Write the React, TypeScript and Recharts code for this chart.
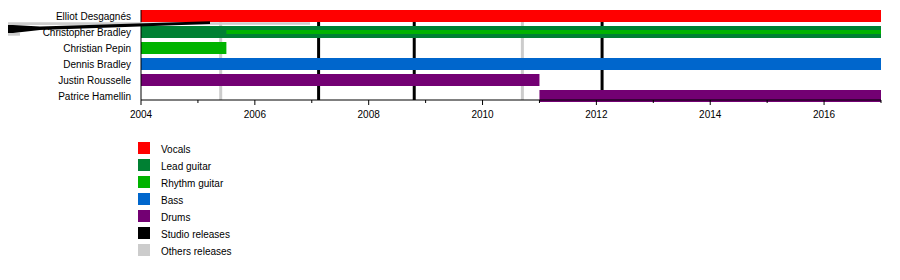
import React from 'react';
import { BarChart, Bar, XAxis, YAxis, ReferenceLine } from 'recharts';

type Range = [number, number] | undefined;

const members = [
  'Elliot Desgagnés',
  'Christopher Bradley',
  'Christian Pepin',
  'Dennis Bradley',
  'Justin Rousselle',
  'Patrice Hamellin',
];
const vocals: Range[] = [[2004, 2017], undefined, undefined, undefined, undefined, undefined];
const leadGuitar: Range[] = [undefined, [2004, 2017], undefined, undefined, undefined, undefined];
const rhythmGuitar: Range[] = [undefined, undefined, [2004, 2005.5], undefined, undefined, undefined];
const rhythmGuitarSecondary: Range[] = [undefined, [2005.5, 2017], undefined, undefined, undefined, undefined];
const bass: Range[] = [undefined, undefined, undefined, [2004, 2017], undefined, undefined];
const drums: Range[] = [undefined, undefined, undefined, undefined, [2004, 2011], [2011, 2017]];

const studioReleases = [2007.12, 2008.8, 2012.1];
const otherReleases = [2005.4, 2010.7];

const yearTicks = [2004, 2005, 2006, 2007, 2008, 2009, 2010, 2011, 2012, 2013, 2014, 2015, 2016, 2017];
const labeledYears = [2004, 2006, 2008, 2010, 2012, 2014, 2016];

const legendLabels = ['Vocals', 'Lead guitar', 'Rhythm guitar', 'Bass', 'Drums', 'Studio releases', 'Others releases'];
const legendColors = ['#ff0000', '#008033', '#00b300', '#0066cc', '#730073', '#000000', '#cccccc'];

const data = members.map((name, i) => ({
  name,
  vocals: vocals[i],
  lead: leadGuitar[i],
  rhythm: rhythmGuitar[i],
  rhythm2: rhythmGuitarSecondary[i],
  bass: bass[i],
  drums: drums[i],
}));

const FONT = '"Liberation Sans", Arial, Helvetica, sans-serif';

const XTick = (props: any) => {
  const { x, y, payload } = props;
  const major = labeledYears.includes(payload.value);
  return (
    <g>
      <line x1={x} x2={x} y1={y} y2={y + (major ? 5 : 3)} stroke="#000" strokeWidth={1} />
      {major && (
        <text x={x} y={y + 18} textAnchor="middle" fontSize={10} fontFamily={FONT} fill="#000">
          {payload.value}
        </text>
      )}
    </g>
  );
};

const YTick = (props: any) => {
  const { x, y, payload } = props;
  return (
    <text x={x - 10} y={y} dy="0.35em" textAnchor="end" fontSize={10} fontFamily={FONT} fill="#000">
      {payload.value}
    </text>
  );
};

const ThinBar = (props: any) => {
  const { x, y, width, height, fill } = props;
  if (!Number.isFinite(width) || !Number.isFinite(x) || width <= 0) return null;
  return <rect x={x} y={y + height / 2 - 2} width={width} height={4} fill={fill} />;
};

export default function App() {
  return (
    <div style={{ position: 'relative', width: 884, height: 264, fontFamily: FONT }}>
      <BarChart
        width={884}
        height={130}
        data={data}
        layout="vertical"
        margin={{ top: 2, right: 11, bottom: 0, left: 0 }}
        barSize={12}
        barGap={-12}
        barCategoryGap={0}
      >
        <XAxis
          type="number"
          domain={[2004, 2017]}
          ticks={yearTicks}
          interval={0}
          allowDataOverflow
          height={38}
          tickSize={0}
          tickMargin={0}
          tickLine={false}
          axisLine={{ stroke: '#000', strokeWidth: 1 }}
          tick={<XTick />}
        />
        <YAxis
          type="category"
          dataKey="name"
          width={133}
          interval={0}
          tickSize={0}
          tickMargin={0}
          tickLine={false}
          padding={{ top: -2, bottom: -4 }}
          axisLine={{ stroke: '#000', strokeWidth: 1 }}
          tick={<YTick />}
        />
        {otherReleases.map((v) => (
          <ReferenceLine key={'o' + v} x={v} stroke="#cccccc" strokeWidth={3} zIndex={100} />
        ))}
        {studioReleases.map((v) => (
          <ReferenceLine key={'s' + v} x={v} stroke="#000000" strokeWidth={3} zIndex={100} />
        ))}
        <Bar dataKey="vocals" fill={legendColors[0]} isAnimationActive={false} />
        <Bar dataKey="lead" fill={legendColors[1]} isAnimationActive={false} />
        <Bar dataKey="rhythm" fill={legendColors[2]} isAnimationActive={false} />
        <Bar dataKey="rhythm2" fill={legendColors[2]} shape={<ThinBar />} isAnimationActive={false} />
        <Bar dataKey="bass" fill={legendColors[3]} isAnimationActive={false} />
        <Bar dataKey="drums" fill={legendColors[4]} isAnimationActive={false} />
      </BarChart>
      <svg
        width={200}
        height={125}
        style={{ position: 'absolute', left: 130, top: 134, overflow: 'visible' }}
      >
        {legendLabels.map((label, i) => (
          <g key={label}>
            <rect x={0} y={i * 17} width={12} height={12} fill={legendColors[i]} />
            <text x={23} y={i * 17 + 11} fontSize={10} fontFamily={FONT} fill="#000">
              {label}
            </text>
          </g>
        ))}
      </svg>
      <svg
        width={320}
        height={45}
        style={{ position: 'absolute', left: -8, top: -8, pointerEvents: 'none' }}
      >
        <polygon points="0,22.3 310,22.3 310,24.7 0,25" fill="#cccccc" />
        <polygon points="0,33 20,33 20,35.7 0,35.7" fill="#cccccc" />
        <polygon points="0,25 13,25 40,26.5 210,21.3 210,24 40,30 13,33 0,33" fill="#000000" />
      </svg>
    </div>
  );
}
